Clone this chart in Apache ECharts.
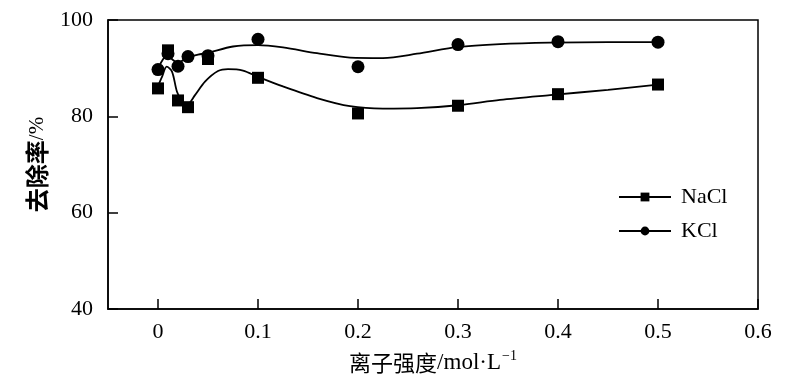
<!DOCTYPE html>
<html>
<head>
<meta charset="utf-8">
<script src="https://cdn.jsdelivr.net/npm/echarts@6/dist/echarts.min.js"></script>
<style>html,body{margin:0;padding:0;background:#fff;}#c{width:800px;height:389px;}</style>
</head>
<body>
<div id="c"></div>
<script>
// Measured points
var xVals = [0, 0.01, 0.02, 0.03, 0.05, 0.1, 0.2, 0.3, 0.4, 0.5];
var nacl = [85.8, 93.7, 83.3, 81.9, 91.9, 88.0, 80.6, 82.2, 84.6, 86.6];
var kcl = [89.7, 93.0, 90.4, 92.4, 92.6, 96.0, 90.3, 94.9, 95.5, 95.4];
// Fitted curves
var naclFitX = [0, 0.004, 0.0087, 0.014, 0.019, 0.024, 0.029, 0.037, 0.047, 0.06, 0.07, 0.085, 0.1, 0.125, 0.159, 0.192, 0.225, 0.259, 0.3, 0.342, 0.392, 0.45, 0.5];
var naclFitY = [86.3, 88.2, 90.3, 89.3, 85.1, 83.1, 82.4, 84.4, 87.2, 89.4, 89.8, 89.5, 88.2, 86.2, 83.8, 82.1, 81.6, 81.7, 82.3, 83.4, 84.4, 85.5, 86.6];
var kclFitX = [0, 0.004, 0.009, 0.015, 0.02, 0.029, 0.04, 0.05, 0.075, 0.1, 0.125, 0.159, 0.192, 0.225, 0.259, 0.3, 0.342, 0.392, 0.45, 0.5];
var kclFitY = [89.9, 91.5, 92.7, 91.7, 91.1, 92.2, 92.8, 93.2, 94.5, 94.8, 94.3, 93.1, 92.2, 92.1, 93.0, 94.4, 95.0, 95.3, 95.4, 95.4];
var xTicks = [0, 0.1, 0.2, 0.3, 0.4, 0.5, 0.6];
var names = ['NaCl', 'KCl'];

function pairs(xs, ys) { return xs.map(function (x, i) { return [x, ys[i]]; }); }

var serif = 'Liberation Serif';
var chart = echarts.init(document.getElementById('c'));
chart.setOption({
  animation: false,
  backgroundColor: '#fff',
  grid: { left: 108, right: 42, top: 20, bottom: 80, show: true, borderColor: '#000', borderWidth: 1.5, backgroundColor: 'transparent' },
  legend: {
    data: names, orient: 'vertical', left: 613, top: 181, itemWidth: 52, itemHeight: 11, itemGap: 12,
    textStyle: { fontFamily: serif, fontSize: 22, color: '#000', padding: [0, 0, 0, 5] }
  },
  xAxis: {
    type: 'value', min: -0.05, max: 0.6,
    name: '{c|离子强度}{t|/mol·L}{s|−1}', nameLocation: 'middle', nameGap: 40,
    nameTextStyle: { rich: {
      c: { fontFamily: 'Noto Sans CJK SC', fontSize: 22, color: '#000' },
      t: { fontFamily: serif, fontSize: 23, color: '#000' },
      s: { fontFamily: serif, fontSize: 14, color: '#000', verticalAlign: 'top', padding: [0, 0, 13, 1] }
    } },
    axisLine: { show: true, onZero: false, lineStyle: { color: '#000', width: 1.5 } },
    axisTick: { show: true, inside: true, length: 10, customValues: xTicks, lineStyle: { color: '#000', width: 1.5 } },
    axisLabel: { customValues: xTicks, margin: 12, fontFamily: serif, fontSize: 22, color: '#000', formatter: function (v) { return String(Math.round(v * 10) / 10); } },
    splitLine: { show: false }
  },
  yAxis: {
    type: 'value', min: 40, max: 100, interval: 20,
    name: '{c|去除率}{t|/%}', nameLocation: 'middle', nameGap: 52, nameRotate: 90,
    nameTextStyle: { rich: {
      c: { fontFamily: 'Noto Sans CJK SC', fontWeight: 'bold', fontSize: 24, color: '#000' },
      t: { fontFamily: serif, fontSize: 21, color: '#000' }
    } },
    axisLine: { show: true, onZero: false, lineStyle: { color: '#000', width: 1.5 } },
    axisTick: { show: true, inside: true, length: 10, lineStyle: { color: '#000', width: 1.5 } },
    axisLabel: { margin: 15, fontFamily: serif, fontSize: 22, color: '#000' },
    splitLine: { show: false }
  },
  series: [
    { name: 'NaCl', type: 'line', smooth: 0.3, data: pairs(naclFitX, naclFitY), symbol: 'rect', symbolSize: 10, showSymbol: false,
      lineStyle: { color: '#000', width: 1.8 }, itemStyle: { color: '#000' }, z: 2 },
    { name: 'KCl', type: 'line', smooth: 0.3, data: pairs(kclFitX, kclFitY), symbol: 'circle', symbolSize: 10, showSymbol: false,
      lineStyle: { color: '#000', width: 1.8 }, itemStyle: { color: '#000' }, z: 2 },
    { name: 'KCl pts', type: 'scatter', data: pairs(xVals, kcl), symbol: 'circle', symbolSize: 13, itemStyle: { color: '#000', opacity: 1 }, z: 3 },
    { name: 'NaCl pts', type: 'scatter', data: pairs(xVals, nacl), symbol: 'rect', symbolSize: 12, itemStyle: { color: '#000', opacity: 1 }, z: 4 }
  ]
});
</script>
</body>
</html>
